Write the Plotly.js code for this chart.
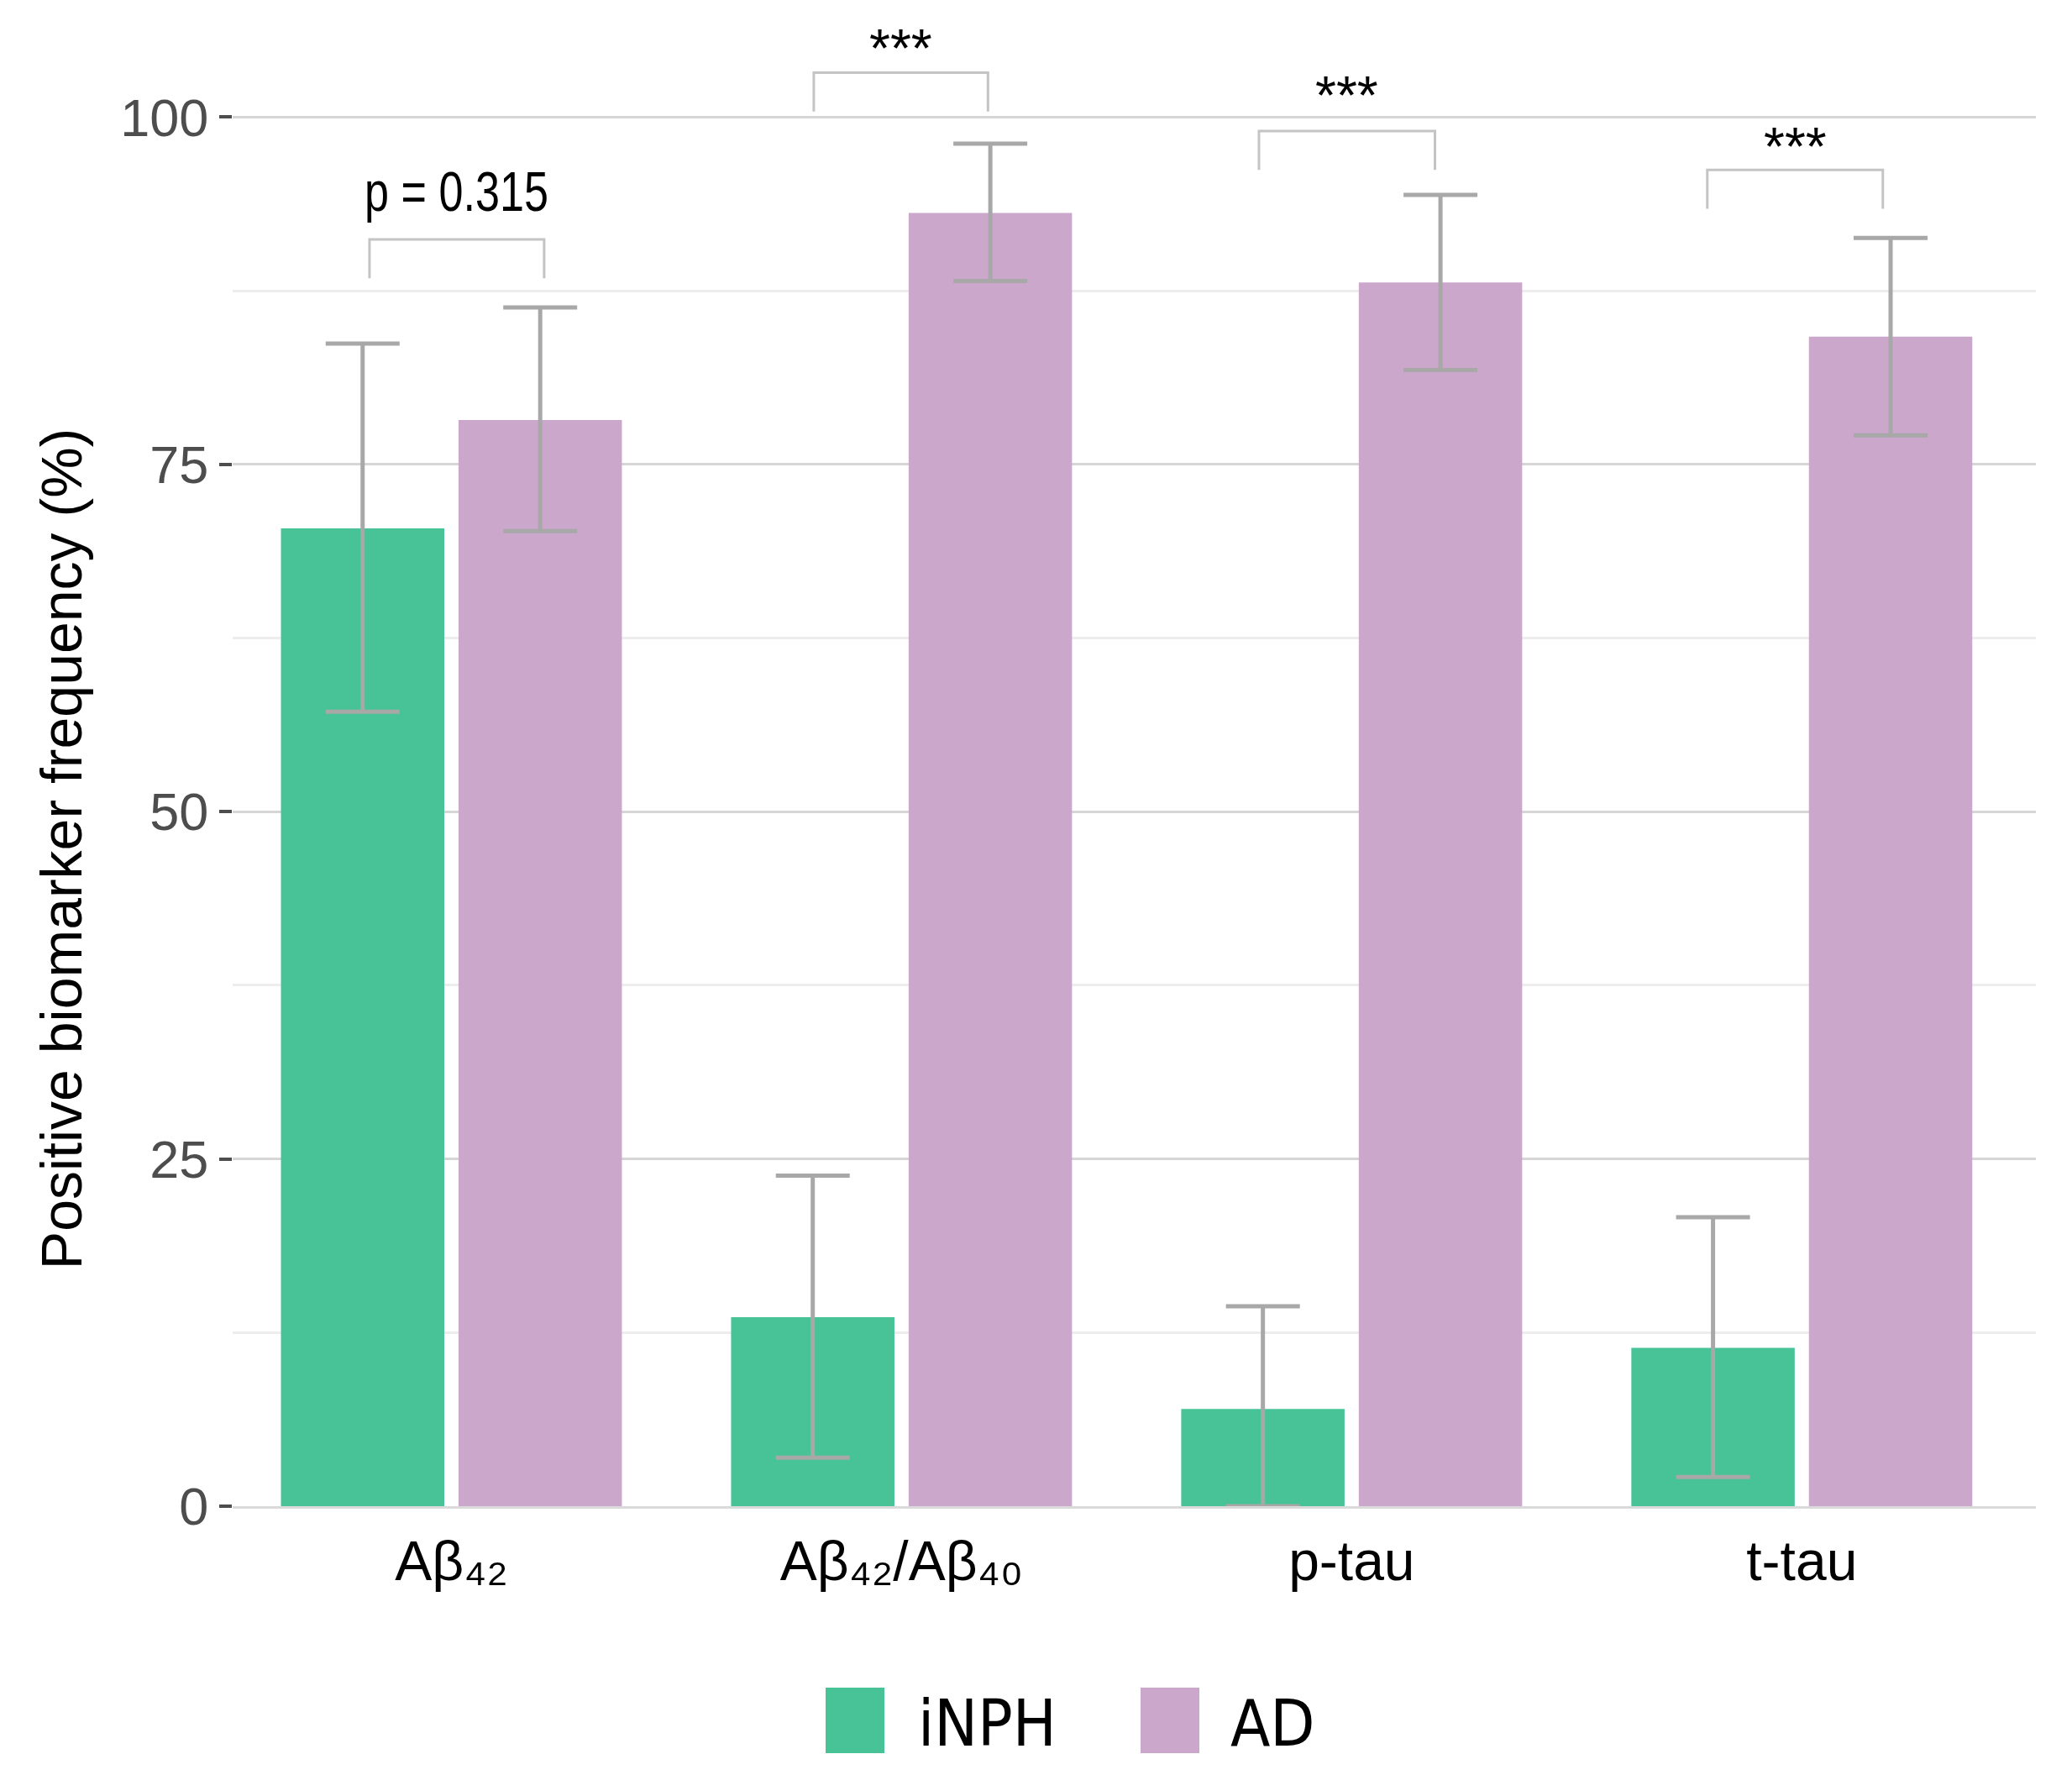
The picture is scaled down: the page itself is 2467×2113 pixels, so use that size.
<!DOCTYPE html>
<html>
<head>
<meta charset="utf-8">
<script src="https://cdn.plot.ly/plotly-3.0.1.min.js"></script>
<style>html,body{margin:0;padding:0;background:#fff;}</style>
</head>
<body>
<div id="chart"></div>
<script>
// ---- data ----
const categories = ['Aβ42', 'Aβ42/Aβ40', 'p-tau', 't-tau'];
const tickLabels = ['Aβ₄₂', 'Aβ₄₂/Aβ₄₀', 'p-tau', 't-tau'];
const groups = ['iNPH', 'AD'];
const inphValues = [70.4, 13.6, 7.0, 11.4];
const inphUpper  = [83.7, 23.8, 14.4, 20.8];
const inphLower  = [57.2, 3.5, 0.0, 2.1];
const adValues   = [78.2, 93.1, 88.1, 84.2];
const adUpper    = [86.3, 98.1, 94.4, 91.3];
const adLower    = [70.2, 88.2, 81.8, 77.1];
const sigLabels  = ['p = 0.315', '***', '***', '***'];
const sigLevels  = [91.2, 103.2, 99.0, 96.2];      // bracket top
const sigTextLevels = [94.4, 105.6, 102.2, 98.5];  // label centre
const bracketLeft  = [-0.182, -0.195, -0.206, -0.210];
const bracketRight = [0.206, 0.192, 0.185, 0.180];
const yTicks     = [0, 25, 50, 75, 100];

// ---- styling ----
const GREEN = '#47C397';
const PURPLE = '#CBA7CB';
const W = 2467, H = 2113;
const M = {l: 277, r: 43, t: 31.5, b: 320};
const PW = W - M.l - M.r, PH = H - M.t - M.b;
const px = x => (x - M.l) / PW;
const py = y => (H - M.b - y) / PH;
const SANS = 'Liberation Sans, Arial, DejaVu Sans, sans-serif';
const NARROW = 'DejaVu Sans Condensed, Liberation Sans, sans-serif';

function errTrace(name, vals, up, lo, color) {
  return {
    type: 'bar', name: name, x: categories, y: vals,
    marker: {color: color, line: {width: 0}},
    error_y: {
      type: 'data', symmetric: false,
      array: vals.map((v, i) => up[i] - v),
      arrayminus: vals.map((v, i) => v - lo[i]),
      color: '#a8a8a8', thickness: 5, width: 44
    },
    showlegend: false, hoverinfo: 'x+y'
  };
}

const traces = [
  errTrace(groups[0], inphValues, inphUpper, inphLower, GREEN),
  errTrace(groups[1], adValues, adUpper, adLower, PURPLE)
];

const shapes = [];
const annotations = [];
const legDrop = 2.8;
sigLevels.forEach((lvl, i) => {
  const a = i + bracketLeft[i], b = i + bracketRight[i];
  shapes.push({
    type: 'path', xref: 'x', yref: 'y',
    path: `M ${a} ${lvl - legDrop} L ${a} ${lvl} L ${b} ${lvl} L ${b} ${lvl - legDrop}`,
    line: {color: '#c4c4c4', width: 3}
  });
  const isP = sigLabels[i].startsWith('p');
  annotations.push({
    xref: 'x', yref: 'y', x: (a + b) / 2, y: sigTextLevels[i], text: sigLabels[i],
    showarrow: false, xanchor: 'center', yanchor: isP ? 'middle' : 'bottom',
    yshift: isP ? 4 : -49,
    font: {family: SANS, size: isP ? 66 : 64, color: '#000'}
  });
});

// y-axis title
annotations.push({
  xref: 'paper', yref: 'paper', x: px(73), y: py(1011),
  text: 'Positive biomarker frequency (%)', textangle: -90,
  showarrow: false, xanchor: 'center', yanchor: 'middle',
  font: {family: SANS, size: 68, color: '#000'}
});

// legend (manual, large keys)
const legendItems = [
  {name: groups[0], color: GREEN, sq: [983, 1053], tx: 1091},
  {name: groups[1], color: PURPLE, sq: [1358, 1428], tx: 1463}
];
legendItems.forEach(it => {
  shapes.push({
    type: 'rect', xref: 'paper', yref: 'paper',
    x0: px(it.sq[0]), x1: px(it.sq[1]), y0: py(2087), y1: py(2009),
    fillcolor: it.color, line: {width: 0}
  });
  annotations.push({
    xref: 'paper', yref: 'paper', x: px(it.tx), y: py(2052),
    text: it.name, showarrow: false, xanchor: 'left', yanchor: 'middle',
    font: {family: NARROW, size: 77, color: '#000'}
  });
});

const layout = {
  width: W, height: H,
  margin: M,
  paper_bgcolor: '#fff', plot_bgcolor: '#fff',
  barmode: 'group', bargap: 0.211, bargroupgap: 0.08,
  showlegend: false,
  xaxis: {
    type: 'category', range: [-0.486, 3.52],
    tickvals: categories, ticktext: tickLabels,
    tickfont: {family: SANS, size: 66, color: '#000'},
    ticks: '', showgrid: false, zeroline: false,
    showline: true, linecolor: '#dadada', linewidth: 3,
    ticklabelstandoff: 6
  },
  yaxis: {
    range: [0, 106.5],
    tickvals: yTicks, ticktext: yTicks.map(String),
    tickfont: {family: SANS, size: 63, color: '#4d4d4d'},
    ticks: 'outside', ticklen: 15, tickwidth: 4, tickcolor: '#4d4d4d',
    showgrid: true, gridcolor: '#d6d6d6', gridwidth: 3,
    minor: {tickvals: [12.5, 37.5, 62.5, 87.5], showgrid: true, gridcolor: '#ededed', gridwidth: 3, ticks: ''},
    zeroline: false, showline: false
  },
  shapes: shapes,
  annotations: annotations
};

Plotly.newPlot('chart', traces, layout, {displayModeBar: false, staticPlot: true}).then(gd => {
  // the p-value label in the reference is set in a narrow face: condense it
  gd.querySelectorAll('text.annotation-text').forEach(t => {
    if (t.textContent === sigLabels[0]) {
      const len = t.getComputedTextLength();
      t.setAttribute('textLength', (len * 0.79).toFixed(1));
      t.setAttribute('lengthAdjust', 'spacingAndGlyphs');
    }
  });
});
</script>
</body>
</html>
